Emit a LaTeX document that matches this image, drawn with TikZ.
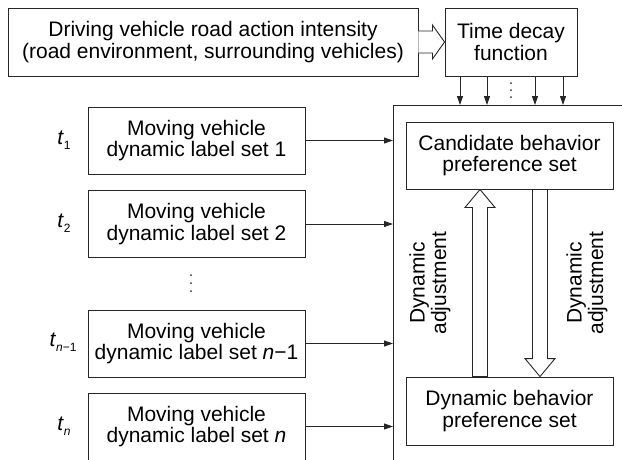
\documentclass[tikz,border=0pt]{standalone}
\usepackage{fontspec}
\setmainfont{Liberation Sans}
\usetikzlibrary{arrows.meta,calc}
\newcommand{\tsub}[1]{\textit{t}\raisebox{-5pt}{\fontsize{12}{12}\selectfont #1}}
\begin{document}
\begin{tikzpicture}[x=1pt,y=-1pt,
  box/.style={draw=black!85, line width=0.9pt, align=center, inner sep=0pt,
    font=\fontsize{21}{21.5}\selectfont},
  lbl/.style={font=\fontsize{21}{21.5}\selectfont},
  conn/.style={draw=black!85, line width=0.9pt, -{Triangle[length=9pt,width=6pt]}},
  hollow/.style={draw=black!85, line width=0.9pt, fill=white, line join=miter},
  dotmark/.style={fill=black!80}
]
\useasboundingbox (0,0) rectangle (622,459);

% top row
\node[box, minimum width=410pt, minimum height=68pt] (top) at (213,42)
  {Driving vehicle road action intensity\\(road environment, surrounding vehicles)};
\node[box, minimum width=132pt, minimum height=68pt] (time) at (511,42)
  {Time decay\\function};

% hollow horizontal arrow
\draw[hollow] ($(top.east)+(0,-11)$) -- ($(top.east)+(14,-11)$) -- ($(top.east)+(14,-17)$)
  -- (time.west) -- ($(top.east)+(14,17)$) -- ($(top.east)+(14,11)$) -- ($(top.east)+(0,11)$);

% big box (cropped)
\coordinate (bigBL) at (393,462);
\coordinate (bigTL) at (393,105);
\coordinate (bigTR) at (624,105);
\draw[draw=black!85, line width=0.9pt] (bigBL) -- (bigTL) -- (bigTR);

% arrows from time decay box
\foreach \dx in {-51,-24,24,52}{
  \draw[conn] ([xshift=\dx pt]time.south) -- ([xshift=\dx pt]time.south |- bigTL);
}
\foreach \yy in {83,90,97}{
  \fill[dotmark] (511,\yy) circle (1pt);
}

% left boxes
\node[box, minimum width=217pt, minimum height=67pt] (b1) at (196.5,140.5)
  {Moving vehicle\\dynamic label set 1};
\node[box, minimum width=217pt, minimum height=67pt] (b2) at (196.5,224)
  {Moving vehicle\\dynamic label set 2};
\node[box, minimum width=217pt, minimum height=67pt] (b3) at (196.5,343.5)
  {Moving vehicle\\dynamic label set \textit{n}−1};
\node[box, minimum width=217pt, minimum height=67pt] (b4) at (196.5,426.5)
  {Moving vehicle\\dynamic label set \textit{n}};
\foreach \yy in {275,283,291}{
  \fill[dotmark] (191,\yy) circle (1pt);
}

\foreach \b in {b1,b2,b3,b4}{
  \draw[conn] (\b.east) -- (\b.east -| bigTL);
}

% time labels
\node[lbl] (t1) at (64,140) {\tsub{1}};
\node[lbl] (t2) at (64,223) {\tsub{2}};
\node[lbl] (t3) at (63,342) {\tsub{\textit{n}−1}};
\node[lbl] (t4) at (64,426) {\tsub{\textit{n}}};

% inner boxes
\node[box, minimum width=207pt, minimum height=67pt] (cand) at (509.5,155.5)
  {Candidate behavior\\preference set};
\node[box, minimum width=207pt, minimum height=68pt] (dyn) at (509.5,411)
  {Dynamic behavior\\preference set};

% hollow vertical arrows
\coordinate (upTip) at ([xshift=-29.5pt]cand.south);
\coordinate (dnTip) at ([xshift=30.5pt]dyn.north);
\draw[hollow] (upTip) -- ($(upTip)+(15,18)$) -- ($(upTip)+(7.5,18)$) -- ($(upTip |- dyn.north)+(7.5,0)$)
  -- ($(upTip |- dyn.north)+(-7.5,0)$) -- ($(upTip)+(-7.5,18)$) -- ($(upTip)+(-15,18)$) -- cycle;
\draw[hollow] (dnTip) -- ($(dnTip)+(15,-18)$) -- ($(dnTip)+(7.5,-18)$) -- ($(dnTip |- cand.south)+(7.5,0)$)
  -- ($(dnTip |- cand.south)+(-7.5,0)$) -- ($(dnTip)+(-7.5,-18)$) -- ($(dnTip)+(-15,-18)$) -- cycle;

% rotated labels
\node[lbl, rotate=90, align=center] (adjL) at (430,283) {Dynamic\\adjustment};
\node[lbl, rotate=90, align=center] (adjR) at (587,283) {Dynamic\\adjustment};
\end{tikzpicture}
\end{document}
